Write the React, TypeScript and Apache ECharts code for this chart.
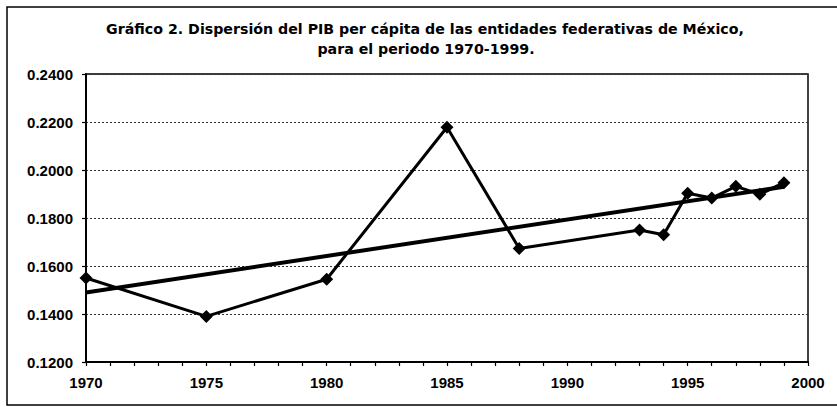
import React, { useEffect, useRef } from "react";
import * as echarts from "echarts";

const years = [1970, 1975, 1980, 1985, 1988, 1993, 1994, 1995, 1996, 1997, 1998, 1999];
const dispersion = [0.155, 0.139, 0.1545, 0.2178, 0.1673, 0.175, 0.173, 0.1903, 0.1883, 0.1932, 0.1899, 0.1947];
const trendYears = [1970, 1999];
const trendValues = [0.149, 0.193];
const titleLines = [
  "Gráfico 2. Dispersión del PIB per cápita de las entidades federativas de México,",
  "para el periodo 1970-1999.",
];

const FONT = "'Liberation Sans', Arial, Helvetica, sans-serif";
const TITLE_FONT = "'DejaVu Sans', 'Liberation Sans', Arial, sans-serif";

export default function App() {
  const ref = useRef<HTMLDivElement>(null);
  useEffect(() => {
    if (!ref.current) return;
    const chart = echarts.init(ref.current, null, { renderer: "svg" });
    chart.setOption({
      animation: false,
      backgroundColor: "#ffffff",
      grid: {
        left: 86,
        right: 29,
        top: 74,
        bottom: 45,
        show: true,
        borderColor: "#000",
        borderWidth: 1.5,
        backgroundColor: "transparent",
      },
      graphic: [
        {
          type: "rect",
          shape: { x: 7, y: 7, width: 845, height: 398 },
          style: { fill: "none", stroke: "#000", lineWidth: 1.5 },
          silent: true,
        },
        {
          type: "text",
          x: 425,
          y: 29,
          style: {
            text: titleLines[0],
            font: `bold 14.2px ${TITLE_FONT}`,
            fill: "#000",
            align: "center",
            verticalAlign: "middle",
          },
        },
        {
          type: "text",
          x: 426,
          y: 49,
          style: {
            text: titleLines[1],
            font: `bold 14.2px ${TITLE_FONT}`,
            fill: "#000",
            align: "center",
            verticalAlign: "middle",
          },
        },
      ],
      xAxis: {
        type: "value",
        min: 1970,
        max: 2000,
        interval: 5,
        axisLine: { show: true, onZero: false, lineStyle: { color: "#000", width: 2 } },
        axisTick: { show: true, length: 4, lineStyle: { color: "#000", width: 1.2 } },
        minorTick: { show: true, splitNumber: 5, length: 4, lineStyle: { color: "#000", width: 1.2 } },
        splitLine: { show: false },
        axisLabel: {
          color: "#000",
          fontFamily: FONT,
          fontWeight: "bold",
          fontSize: 15,
          margin: 13,
          formatter: (v: number) => String(v),
        },
      },
      yAxis: {
        type: "value",
        min: 0.12,
        max: 0.24,
        interval: 0.02,
        axisLine: { show: true, lineStyle: { color: "#000", width: 2 } },
        axisTick: { show: true, length: 4, lineStyle: { color: "#000", width: 1.2 } },
        splitLine: { show: true, lineStyle: { color: "#333", width: 1, type: [2, 2] } },
        axisLabel: {
          color: "#000",
          fontFamily: FONT,
          fontWeight: "bold",
          fontSize: 15,
          margin: 13,
          formatter: (v: number) => v.toFixed(4),
        },
      },
      series: [
        {
          name: "Dispersión",
          type: "line",
          data: years.map((y, i) => [y, dispersion[i]]),
          symbol: "diamond",
          symbolSize: 13,
          lineStyle: { color: "#000", width: 3 },
          itemStyle: { color: "#000" },
          z: 3,
        },
        {
          name: "Tendencia",
          type: "line",
          data: trendYears.map((y, i) => [y, trendValues[i]]),
          symbol: "none",
          lineStyle: { color: "#000", width: 4 },
          z: 2,
        },
      ],
    });
    return () => chart.dispose();
  }, []);
  return (
    <div
      ref={ref}
      style={{ position: "fixed", left: 0, top: 0, width: 837, height: 407, background: "#fff" }}
    />
  );
}
